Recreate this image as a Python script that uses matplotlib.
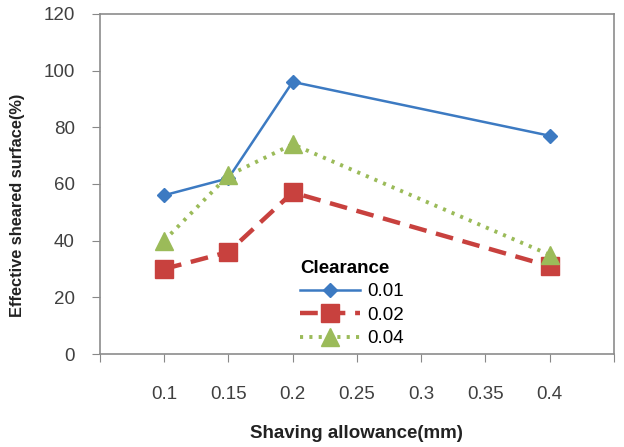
import matplotlib
matplotlib.use("Agg")
import matplotlib.pyplot as plt

x_vals = [0.1, 0.15, 0.2, 0.4]
s001 = [56, 62, 96, 77]
s002 = [30, 36, 57, 31]
s004 = [40, 63, 74, 35]
labels = ["0.01", "0.02", "0.04"]
tick_labels = ["0.1", "0.15", "0.2", "0.25", "0.3", "0.35", "0.4"]

plt.rcParams['font.family'] = ['Liberation Sans', 'DejaVu Sans']
fig = plt.figure(figsize=(6.24, 4.47), dpi=100)
ax = fig.add_axes([0.160, 0.208, 0.824, 0.761])

ax.plot(x_vals, s001, color='#3C7AC2', lw=1.8, marker='D', ms=7, label=labels[0])
ax.plot(x_vals, s002, color='#C8413E', lw=3.2, ls=(0, (4, 2.2)), marker='s', ms=13, label=labels[1])
ax.plot(x_vals, s004, color='#9BBB59', lw=2.8, ls=(0, (0.8, 1.6)), marker='^', ms=13, label=labels[2])

ax.set_xlim(0.05, 0.45)
ax.set_ylim(0, 120)
ax.set_yticks(range(0, 121, 20))
major = [0.05 + 0.05 * i for i in range(9)]
ax.set_xticks(major)
ax.set_xticklabels([""] + tick_labels + [""])
ax.tick_params(axis='x', direction='out', length=6, color='#888888', labelsize=13.5, labelcolor='#404040', pad=17)
ax.tick_params(axis='y', direction='out', length=5.5, color='#888888', labelsize=13.5, labelcolor='#404040', pad=12.5)
for sp in ax.spines.values():
    sp.set_color('#8c8c8c')
    sp.set_linewidth(1.2)

ax.set_xlabel("Shaving allowance(mm)", fontsize=13.5, fontweight='bold', color='#222222', labelpad=16)
ax.set_ylabel("Effective sheared surface(%)", fontsize=11.8, fontweight='bold', color='#222222')
ax.yaxis.set_label_coords(-0.146, 0.437)

leg = ax.legend(title="Clearance", loc='upper left', bbox_to_anchor=(0.481, 0.418),
                bbox_transform=fig.transFigure, frameon=False,
                fontsize=13.5, handlelength=3.2, labelspacing=0.33, handletextpad=0.37,
                borderpad=0, borderaxespad=0)
leg.get_title().set_fontweight('bold')
leg.get_title().set_fontsize(13.5)
leg._legend_box.align = "left"

fig.savefig("out.png", dpi=100)
